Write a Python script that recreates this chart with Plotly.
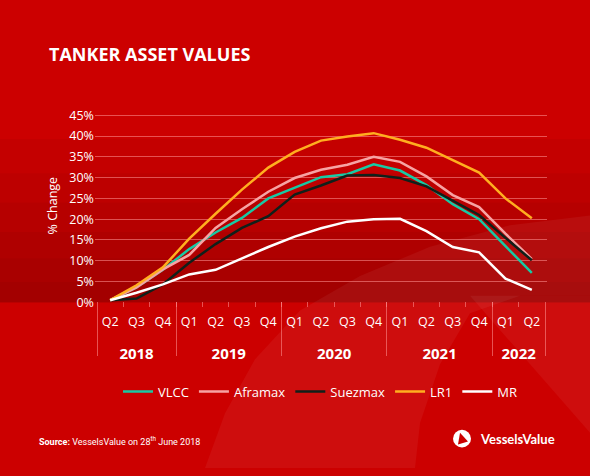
import plotly.graph_objects as go

W, H = 590, 476

# --- data ---
periods = [
    "2018 Q2", "2018 Q3", "2018 Q4",
    "2019 Q1", "2019 Q2", "2019 Q3", "2019 Q4",
    "2020 Q1", "2020 Q2", "2020 Q3", "2020 Q4",
    "2021 Q1", "2021 Q2", "2021 Q3", "2021 Q4",
    "2022 Q1", "2022 Q2",
]
quarters = [p.split()[1] for p in periods]
years = ["2018", "2019", "2020", "2021", "2022"]

vlcc = [0.5, 3.6, 7.8, 12.8, 16.8, 20.3, 25.0, 27.5, 30.1, 30.8, 33.2, 31.7, 28.2, 23.6, 20.0, 13.5, 7.1]
aframax = [0.5, 3.6, 7.9, 11.4, 17.9, 22.4, 26.6, 29.9, 31.9, 33.1, 35.0, 33.8, 30.3, 25.8, 22.9, 16.5, 10.4]
suezmax = [0.5, 0.9, 4.3, 9.5, 14.0, 17.9, 20.7, 25.9, 28.1, 30.5, 30.6, 29.9, 27.9, 24.5, 21.0, 15.5, 10.1]
lr1 = [0.5, 4.1, 8.4, 15.3, 21.3, 27.1, 32.4, 36.2, 38.9, 39.9, 40.7, 39.1, 37.2, 34.2, 31.2, 25.0, 20.2]
mr = [0.5, 2.3, 4.3, 6.7, 7.8, 10.6, 13.3, 15.8, 17.8, 19.4, 20.0, 20.1, 17.1, 13.3, 12.0, 5.7, 3.0]

series = [
    ("VLCC", vlcc, "#17c9a4"),
    ("Aframax", aframax, "#f7a3a3"),
    ("Suezmax", suezmax, "#10201a"),
    ("LR1", lr1, "#ffae1f"),
    ("MR", mr, "#ffffff"),
]

y_ticks = list(range(0, 50, 5))


def px_x(x):
    return x / W


def px_y(y):
    return 1 - y / H


# year grouping for the label table
counts = [sum(p.startswith(y) for p in periods) for y in years]
bounds = [-0.5]
for c in counts:
    bounds.append(bounds[-1] + c)
centers = [(a + b) / 2 for a, b in zip(bounds[:-1], bounds[1:])]
inner_bounds = [i + 0.5 for i in range(len(periods) - 1)]

FONT = "Open Sans"
GRID = "rgba(255,150,150,0.55)"
# pad the range a touch so the outer year dividers are not clipped away
unit = 448 / len(periods)
pad = 0.08
X_DOMAIN = [px_x(97 - pad * unit), px_x(545 + pad * unit)]
X_RANGE = [-0.5 - pad, len(periods) - 0.5 + pad]

fig = go.Figure()
for name, vals, color in series:
    fig.add_trace(
        go.Scatter(
            x=periods, y=vals, name=name, mode="lines",
            line=dict(color=color, width=2.5),
        )
    )

# empty traces so the label axes get drawn
for xa in ["x2", "x3"]:
    fig.add_trace(go.Scatter(x=[None], y=[None], xaxis=xa, yaxis="y3",
                             showlegend=False, hoverinfo="skip"))

# background: darkening towards the zero line, plus light swooshes
shapes = []
for y0 in [140, 175, 205, 235, 262, 286]:
    shapes.append(dict(type="rect", xref="paper", yref="paper", layer="below",
                       x0=0, x1=1, y0=px_y(306.7), y1=px_y(y0),
                       fillcolor="rgba(60,0,0,0.05)", line_width=0))


def path(points):
    return "M " + " L ".join(f"{px_x(x):.4f},{px_y(y):.4f}" for x, y in points) + " Z"


shapes.append(dict(type="path", xref="paper", yref="paper", layer="below",
                   path=path([(205, 476), (225, 420), (255, 365), (300, 315),
                              (360, 280), (430, 250), (510, 228), (590, 218),
                              (590, 300), (520, 300), (470, 318), (440, 370),
                              (420, 430), (415, 476)]),
                   fillcolor="rgba(255,255,255,0.05)", line_width=0))
shapes.append(dict(type="path", xref="paper", yref="paper", layer="below",
                   path=path([(470, 300), (590, 300), (590, 440)]),
                   fillcolor="rgba(255,255,255,0.05)", line_width=0))

# logo
shapes.append(dict(type="circle", xref="paper", yref="paper",
                   x0=px_x(453), x1=px_x(471), y0=px_y(455), y1=px_y(437),
                   fillcolor="white", line_width=0))
shapes.append(dict(type="path", xref="paper", yref="paper",
                   path=path([(460, 440), (468, 449), (458, 452)]),
                   fillcolor="#cc0000", line_width=0))

fig.update_layout(
    width=W, height=H, autosize=False,
    margin=dict(l=0, r=0, t=0, b=0),
    paper_bgcolor="#cc0000", plot_bgcolor="rgba(0,0,0,0)",
    font=dict(family=FONT, color="white", size=12),
    shapes=shapes,
    title=dict(text="<b>TANKER ASSET VALUES</b>", x=px_x(49), xanchor="left",
               y=px_y(54), yanchor="middle", xref="paper", yref="paper",
               font=dict(family=FONT, size=18, color="white")),
    xaxis=dict(domain=X_DOMAIN, anchor="y", type="category",
               range=X_RANGE, showticklabels=False, showgrid=False,
               ticks="", zeroline=False, showline=False, fixedrange=True),
    yaxis=dict(domain=[px_y(306.7), px_y(306.7 - 46.5 * 4.244)],
               range=[0, 46.5], tickvals=y_ticks,
               ticktext=[f"{v}%" for v in y_ticks],
               showgrid=True, gridcolor=GRID, gridwidth=1,
               zeroline=True, zerolinecolor="rgba(0,0,0,0)",
               ticks="", showline=False, fixedrange=True,
               tickfont=dict(size=12.5, color="white"),
               title=dict(text="% Change", standoff=8,
                          font=dict(size=12.5, color="white"))),
    yaxis3=dict(domain=[px_y(362), px_y(306.7)], range=[0, 1], visible=False,
                fixedrange=True),
    xaxis2=dict(domain=X_DOMAIN, anchor="y3", side="top",
                range=X_RANGE, tickmode="array",
                tickvals=list(range(len(quarters))), ticktext=quarters,
                ticklabelposition="inside", ticklabelstandoff=12,
                ticks="", showgrid=False,
                zeroline=False, showline=False, fixedrange=True,
                tickfont=dict(size=12.5, color="white"),
                minor=dict(tickvals=inner_bounds, ticks="inside", ticklen=5,
                           tickcolor=GRID, tickwidth=1, showgrid=False)),
    xaxis3=dict(domain=X_DOMAIN, anchor="y3", side="bottom",
                range=X_RANGE, tickmode="array", tickvals=centers,
                ticktext=[f"<b>{y}</b>" for y in years],
                ticklabelposition="inside", ticklabelstandoff=-9,
                ticks="", showgrid=False,
                zeroline=False, showline=False, fixedrange=True,
                tickfont=dict(size=15, color="white"),
                minor=dict(tickvals=bounds, ticks="", showgrid=True,
                           gridcolor=GRID, gridwidth=1)),
    legend=dict(orientation="h", x=px_x(118), xanchor="left", y=px_y(398),
                yanchor="middle", bgcolor="rgba(0,0,0,0)",
                font=dict(size=13, color="white"), itemwidth=30),
    annotations=[
        dict(text="<b>Source:</b> VesselsValue on 28<sup>th</sup> June 2018",
             x=px_x(37), y=px_y(448), xref="paper", yref="paper",
             xanchor="left", yanchor="middle", showarrow=False,
             font=dict(family="Roboto", size=9, color="white")),
        dict(text="<b>VesselsValue</b>", x=px_x(478), y=px_y(446),
             xref="paper", yref="paper", xanchor="left", yanchor="middle",
             showarrow=False, font=dict(family="Lato", size=13, color="white")),
    ],
)

# the page body has a default 8px margin; drop it so the chart sits at 0,0
fig.write_html("out.html", config={"displayModeBar": False},
               post_script="document.body.style.margin = '0';")
